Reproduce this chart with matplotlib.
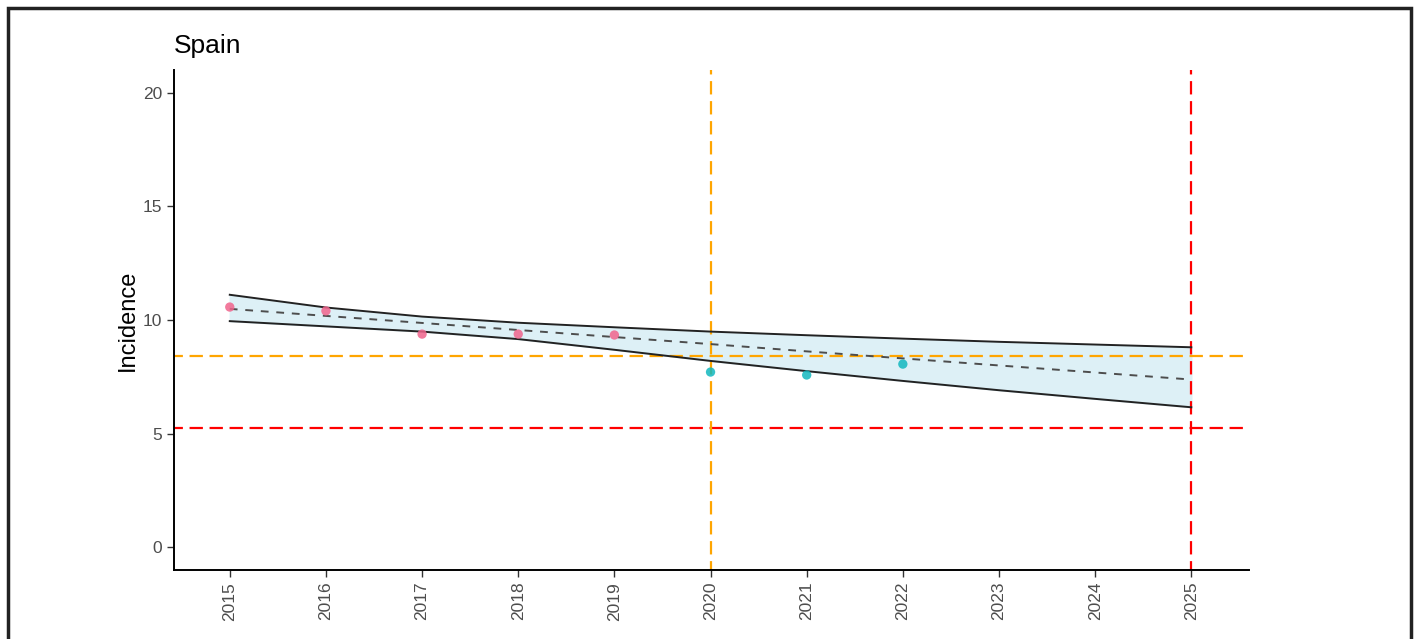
import matplotlib
matplotlib.use("Agg")
import matplotlib.pyplot as plt
from matplotlib.patches import Rectangle

plt.rcParams['font.family'] = ['Liberation Sans', 'DejaVu Sans']

# observed incidence
years_obs = [2015, 2016, 2017, 2018, 2019, 2020, 2021, 2022]
incidence = [10.57, 10.40, 9.38, 9.38, 9.34, 7.71, 7.58, 8.06]
period = ['pre', 'pre', 'pre', 'pre', 'pre', 'post', 'post', 'post']

# fitted trend and band
years_fit = [2015, 2016, 2017, 2018, 2019, 2020, 2021, 2022, 2023, 2024, 2025]
fit = [10.49, 10.18, 9.87, 9.56, 9.25, 8.94, 8.62, 8.31, 8.00, 7.69, 7.38]
upper = [11.11, 10.55, 10.15, 9.88, 9.68, 9.49, 9.33, 9.18, 9.04, 8.92, 8.80]
lower = [9.95, 9.72, 9.49, 9.16, 8.69, 8.20, 7.75, 7.32, 6.91, 6.53, 6.16]

# reference lines
target_orange = 8.43
target_red = 5.25
year_orange = 2020
year_red = 2025

colors = {'pre': '#f0648c', 'post': '#12b8bf'}

fig = plt.figure(figsize=(14.16, 6.39), dpi=100)
ax = fig.add_axes([174 / 1416, 1 - 570 / 639, (1249 - 174) / 1416, (570 - 70) / 639])

ax.fill_between(years_fit, lower, upper, color='#ddf0f6', zorder=1)
ax.plot(years_fit, upper, color='#222222', lw=1.4, zorder=3)
ax.plot(years_fit, lower, color='#222222', lw=1.4, zorder=3)
ax.plot(years_fit, fit, color='#4d4d4d', lw=1.4, ls=(0, (4, 4)), zorder=3)

for x, y, p in zip(years_obs, incidence, period):
    ax.scatter(x, y, s=45, color=colors[p], alpha=0.85, edgecolors='none', zorder=4)

dash = (2, (6, 3))
ax.axhline(target_orange, color='orange', lw=1.6, ls=dash, zorder=2)
ax.axhline(target_red, color='red', lw=1.6, ls=dash, zorder=2)
ax.axvline(year_orange, color='orange', lw=1.6, ls=dash, zorder=2)
ax.axvline(year_red, color='red', lw=1.6, ls=dash, zorder=2)

ax.set_xlim(2014.42, 2025.6)
ax.set_ylim(-1, 21)
ax.set_xticks(range(2015, 2026))
ax.set_xticklabels([str(y) for y in range(2015, 2026)], rotation=90)
ax.set_yticks([0, 5, 10, 15, 20])
ax.tick_params(colors='#333333', labelcolor='#4d4d4d', labelsize=12.5, length=5, width=1)
for s in ['top', 'right']:
    ax.spines[s].set_visible(False)
for s in ['left', 'bottom']:
    ax.spines[s].set_linewidth(1.4)
ax.set_ylabel('Incidence', fontsize=17, labelpad=3)
ax.set_title('Spain', loc='left', fontsize=19, pad=12)

fig.patches.append(Rectangle((8 / 1416, -0.05), (1411 - 8) / 1416, 1.05 - 8 / 639,
                             transform=fig.transFigure, fill=False,
                             edgecolor='#222222', lw=2.5))

fig.savefig('out.png', dpi=100)
